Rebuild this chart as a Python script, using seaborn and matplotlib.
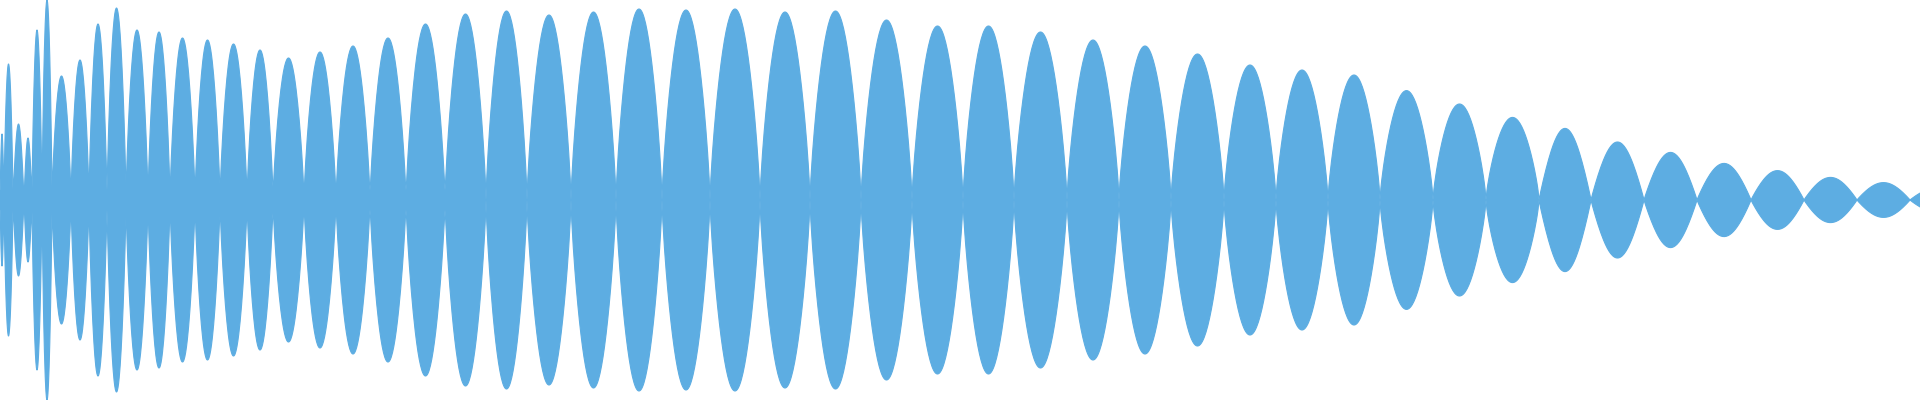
import numpy as np
import pandas as pd
import matplotlib
matplotlib.use("Agg")
import matplotlib.pyplot as plt
import seaborn as sns

# zero crossings of the envelope (pixel-ish time units, 0..1920)
crossings = [0, 4, 13, 24, 32, 42, 52, 71, 89, 107, 126, 148, 170, 195, 220, 247,
             273, 304, 336, 370, 406, 445, 486, 527, 571, 616, 662, 710, 760, 810,
             861, 912, 963, 1014, 1067, 1119, 1171, 1224, 1276, 1328, 1380, 1433,
             1486, 1539, 1591, 1644, 1697, 1751, 1804, 1857, 1910, 1963]
# peak amplitude of each lobe (0..1)
peaks = [0.33, 0.68, 0.38, 0.31, 0.85, 1.0, 0.62, 0.70, 0.88, 0.96, 0.85, 0.84,
         0.81, 0.80, 0.78, 0.75, 0.71, 0.74, 0.77, 0.81, 0.88, 0.93, 0.945, 0.925,
         0.94, 0.955, 0.95, 0.955, 0.94, 0.945, 0.90, 0.87, 0.87, 0.84, 0.80,
         0.77, 0.73, 0.675, 0.65, 0.625, 0.547, 0.48, 0.413, 0.358, 0.29, 0.238,
         0.183, 0.147, 0.113, 0.087, 0.06]
# thin centre band that stays filled on the busy left part
band = 0.05
band_end = 470

sns.set_theme(style="white")
fig = plt.figure(figsize=(19.2, 4), dpi=100)
ax = fig.add_axes([0, 0, 1, 1])

rows = []
for i, amp in enumerate(peaks):
    x = np.linspace(crossings[i], crossings[i + 1], 60)
    t = (x - crossings[i]) / (crossings[i + 1] - crossings[i])
    # fuller lobes on the big part, more diamond-like in the faded tail
    shape = 0.75 if amp > 0.4 else 0.95
    env = amp * np.sin(np.pi * t) ** shape
    env = np.where(x < band_end, np.maximum(env, band), env)
    rows.append(pd.DataFrame({"x": x, "env": env}))
df = pd.concat(rows, ignore_index=True)

color = "#5dade2"
sns.lineplot(data=df, x="x", y="env", ax=ax, color=color, lw=0.8)
ax.plot(df["x"], -df["env"], color=color, lw=0.8)
ax.fill_between(df["x"], -df["env"], df["env"], color=color, lw=0)

ax.set_xlim(0, 1920)
ax.set_ylim(-1.0, 1.0)
ax.axis("off")
fig.savefig("out.png", dpi=100)
